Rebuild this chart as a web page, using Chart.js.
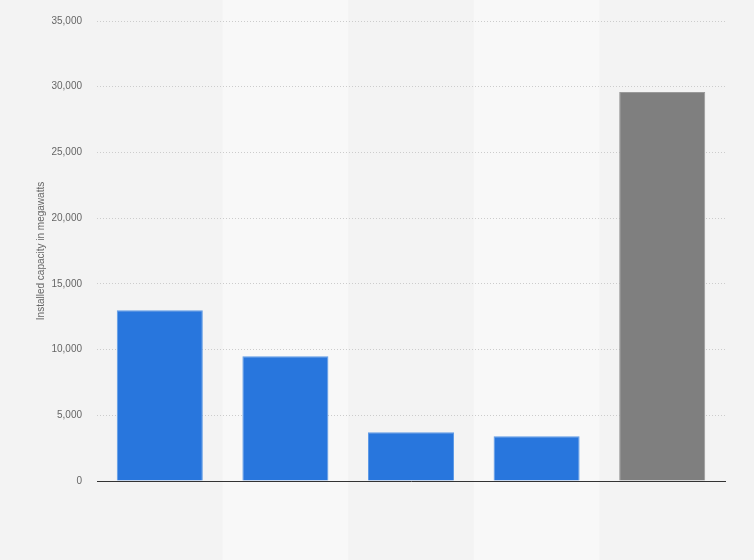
<!DOCTYPE html>
<html>
<head>
<meta charset="utf-8">
<script src="https://cdn.jsdelivr.net/npm/chart.js@4"></script>
<style>
  html, body { margin: 0; padding: 0; background: #f3f3f3; }
  #wrap { width: 754px; height: 560px; }
</style>
</head>
<body>
<div id="wrap"><canvas id="myChart" width="754" height="560"></canvas></div>
<script>
var categories = ['', '', '', '', ''];
var capacity = [13000, 9500, 3700, 3400, 29600];
var barColors = ['#2876dd', '#2876dd', '#2876dd', '#2876dd', '#7f7f7f'];
var barEdges = ['#5f9be6', '#5f9be6', '#5f9be6', '#5f9be6', '#9a9a9a'];
var yTicks = [0, 5000, 10000, 15000, 20000, 25000, 30000, 35000];

// lighter bands behind every second category
var bandPlugin = {
  id: 'bands',
  beforeDraw: function (chart) {
    var c = chart.ctx, x = chart.scales.x, area = chart.chartArea;
    var step = (area.right - area.left) / categories.length;
    c.save();
    c.fillStyle = '#f8f8f8';
    for (var i = 1; i < categories.length; i += 2) {
      var mid = x.getPixelForValue(i);
      c.fillRect(mid - step / 2, 0, step, chart.height);
    }
    c.restore();
  }
};

var ctx = document.getElementById('myChart').getContext('2d');
var chart = new Chart(ctx, {
  type: 'bar',
  data: {
    labels: categories,
    datasets: [{
      data: capacity,
      backgroundColor: barColors,
      borderColor: barEdges,
      borderWidth: 1,
      categoryPercentage: 1,
      barPercentage: 0.685
    }]
  },
  options: {
    responsive: false,
    animation: false,
    layout: { padding: { top: 14, right: 29, bottom: 71, left: 35 } },
    plugins: { legend: { display: false }, tooltip: { enabled: false } },
    scales: {
      x: {
        grid: { display: false },
        border: { display: true, color: '#333333', width: 1 },
        ticks: { display: false }
      },
      y: {
        min: 0,
        max: 35000,
        afterBuildTicks: function (s) { s.ticks = yTicks.map(function (v) { return { value: v }; }); },
        afterFit: function (s) { s.width = 62; },
        grid: { color: '#cccccc', drawTicks: false, lineWidth: 1 },
        border: { display: false, dash: [1, 2] },
        ticks: {
          padding: 15,
          color: '#666666',
          font: { family: 'Liberation Sans, Arial', size: 10 },
          callback: function (v) { return v.toLocaleString('en-US'); }
        },
        title: {
          display: true,
          text: 'Installed capacity in megawatts',
          color: '#666666',
          font: { family: 'Liberation Sans, Arial', size: 10 },
          padding: { top: 0, bottom: 0 }
        }
      }
    }
  },
  plugins: [bandPlugin]
});
</script>
</body>
</html>
